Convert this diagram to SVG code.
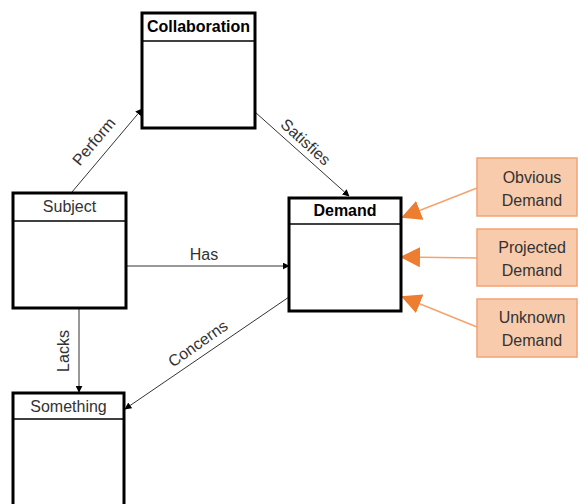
<svg xmlns="http://www.w3.org/2000/svg" width="578" height="504" viewBox="0 0 578 504">
<defs>
<marker id="ab" viewBox="0 0 10 10" refX="9" refY="5" markerWidth="7" markerHeight="7" markerUnits="userSpaceOnUse" orient="auto"><path d="M0,0 L10,5 L0,10 z" fill="#000"/></marker>
<marker id="ao" viewBox="0 0 10 10" refX="9" refY="5" markerWidth="20" markerHeight="20" markerUnits="userSpaceOnUse" orient="auto"><path d="M0,0 L10,5 L0,10 z" fill="#ed7d31"/></marker>
<style>
.box{fill:#fff;stroke:#000;stroke-width:3}
.hdr{stroke:#000;stroke-width:1.5}
.t{font-family:"Liberation Sans",Arial,sans-serif;font-size:16px;fill:#333;text-anchor:middle}
.tb{font-family:"Liberation Sans",Arial,sans-serif;font-size:16px;font-weight:bold;fill:#000;text-anchor:middle}
.c{stroke:#333;stroke-width:1;fill:none;marker-end:url(#ab)}
.co{stroke:#f4a370;stroke-width:1.5;fill:none;marker-end:url(#ao)}
.ob{fill:#f8cbad;stroke:#f4a370;stroke-width:1.5}
</style>
</defs>
<g id="connectors">
<line class="c" x1="72" y1="192" x2="142" y2="109"/>
<line class="c" x1="255" y1="112" x2="349" y2="196"/>
<line class="c" x1="126" y1="266" x2="289" y2="266"/>
<line class="c" x1="289" y1="297" x2="125" y2="409"/>
<line class="c" x1="79" y1="308" x2="79" y2="392"/>
<line class="co" x1="477" y1="188" x2="403" y2="217"/>
<line class="co" x1="477" y1="258" x2="402" y2="257"/>
<line class="co" x1="477" y1="327" x2="403" y2="297"/>
<text class="t" transform="translate(98,145) rotate(-50)">Perform</text>
<text class="t" transform="translate(302,146) rotate(42)">Satisfies</text>
<text class="t" x="204" y="260">Has</text>
<text class="t" transform="translate(201,348) rotate(-35)">Concerns</text>
<text class="t" transform="translate(69,351) rotate(-90)">Lacks</text>
</g>
<g id="collaboration">
<rect class="box" x="142" y="13" width="113" height="115"/>
<line class="hdr" x1="142" y1="41" x2="255" y2="41"/>
<text class="tb" x="198.5" y="32">Collaboration</text>
</g>
<g id="subject">
<rect class="box" x="13" y="193" width="113" height="115"/>
<line class="hdr" x1="13" y1="221" x2="126" y2="221"/>
<text class="t" x="69.5" y="212">Subject</text>
</g>
<g id="demand">
<rect class="box" x="289" y="198" width="112" height="113"/>
<line class="hdr" x1="289" y1="224" x2="401" y2="224"/>
<text class="tb" x="345" y="216">Demand</text>
</g>
<g id="something">
<rect class="box" x="13" y="393" width="111" height="120"/>
<line class="hdr" x1="13" y1="419" x2="124" y2="419"/>
<text class="t" x="68.5" y="412">Something</text>
</g>
<g id="obvious">
<rect class="ob" x="477" y="158" width="100" height="58"/>
<text class="t" x="532" y="183">Obvious</text>
<text class="t" x="532" y="206">Demand</text>
</g>
<g id="projected">
<rect class="ob" x="477" y="229" width="100" height="57"/>
<text class="t" x="532" y="253">Projected</text>
<text class="t" x="532" y="276">Demand</text>
</g>
<g id="unknown">
<rect class="ob" x="477" y="299" width="100" height="58"/>
<text class="t" x="532" y="323">Unknown</text>
<text class="t" x="532" y="346">Demand</text>
</g>
</svg>
